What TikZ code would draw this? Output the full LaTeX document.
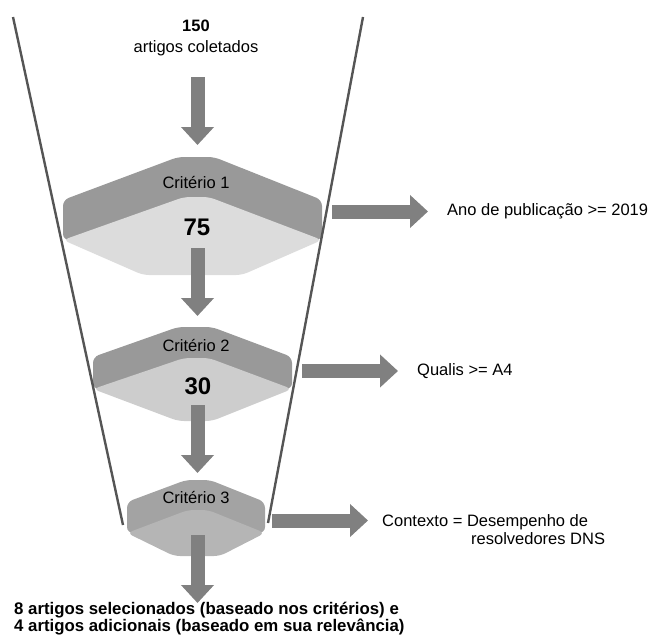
\documentclass[tikz,border=0pt]{standalone}
\usepackage{fontspec}
\setmainfont{Liberation Sans}
\usetikzlibrary{arrows.meta}

\definecolor{slabdark}{HTML}{999999}
\definecolor{slabthree}{HTML}{A3A3A3}
\definecolor{lightone}{HTML}{DCDCDC}
\definecolor{lighttwo}{HTML}{CDCDCD}
\definecolor{lightthree}{HTML}{B5B5B5}
\definecolor{arrowgray}{HTML}{808080}
\definecolor{funnelgray}{HTML}{555555}

\begin{document}
\begin{tikzpicture}[x=1pt, y=-1pt,
	txt/.style = {font=\fontsize{16.5}{18}\selectfont, inner sep=0pt},
	count/.style = {font=\fontsize{24}{28}\selectfont\bfseries, inner sep=0pt},
	blockarrow/.style = {draw=arrowgray, line width=14pt,
		-{Triangle[width=32pt, length=18pt]}},
	slab/.style = {rounded corners=6pt}]
	
	% Page frame
	\useasboundingbox (0,0) rectangle (654,637);
	
	% Slab 1
	\fill[slab, slabdark] (63,200) -- (178,157) -- (214,157) -- (322,200)
		-- (322,240) -- (63,240) -- cycle;
	\fill[slab, lightone] (63,240) -- (184,197) -- (209,197) -- (322,240)
		-- (242,275) -- (143,275) -- cycle;
	
	% Slab 2
	\fill[slab, slabdark] (93,357) -- (178,327) -- (212,327) -- (292,357)
		-- (292,389) -- (93,389) -- cycle;
	\fill[slab, lighttwo] (93,389) -- (184,358) -- (209,358) -- (292,389)
		-- (212,421) -- (178,421) -- cycle;
	
	% Slab 3
	\fill[slab, slabthree] (127,502) -- (186,480) -- (210,480) -- (265,502)
		-- (265,533) -- (127,533) -- cycle;
	\fill[slab, lightthree] (127,533) -- (188,510) -- (208,510) -- (265,533)
		-- (220,556) -- (174,556) -- cycle;
	
	% Funnel walls
	\draw[funnelgray, line width=2.4pt] (13,17) -- (123,525);
	\draw[funnelgray, line width=2.4pt] (363,17) -- (268,523);
	
	% Texts
	\node[txt, align=center] (start) at (196,38) {\textbf{150}\\[3pt]artigos coletados};
	\node[txt] (crit1) at (196,183) {Critério 1};
	\node[count] (num1) at (197,227) {75};
	\node[txt] (crit2) at (196,346) {Critério 2};
	\node[count] (num2) at (198,386) {30};
	\node[txt] (crit3) at (196,498) {Critério 3};
	\node[txt, anchor=west] (rule1) at (447,211) {Ano de publicação >= 2019};
	\node[txt, anchor=west] (rule2) at (417,371) {Qualis >= A4};
	\node[txt, anchor=west, align=left] (rule3) at (382,530)
		{Contexto = Desempenho de\\\hspace*{89pt}resolvedores DNS};
	\node[txt, anchor=west, align=left, font=\fontsize{16.8}{17}\selectfont\bfseries] (result) at (14,619)
		{8 artigos selecionados (baseado nos critérios) e\\4 artigos adicionais (baseado em sua relevância)};
	
	% Arrow ends
	\coordinate (down1a) at (197.5,77);  \coordinate (down1b) at (197.5,145);
	\coordinate (down2a) at (197.5,248); \coordinate (down2b) at (197.5,316);
	\coordinate (down3a) at (197.5,405); \coordinate (down3b) at (197.5,473);
	\coordinate (down4a) at (197.5,535); \coordinate (down4b) at (197.5,603);
	\coordinate (side1a) at (332,211.5); \coordinate (side1b) at (428,211.5);
	\coordinate (side2a) at (302,371);   \coordinate (side2b) at (398,371);
	\coordinate (side3a) at (272,520.5); \coordinate (side3b) at (368,520.5);
	
	% Block arrows
	\draw[blockarrow] (down1a) -- (down1b);
	\draw[blockarrow] (down2a) -- (down2b);
	\draw[blockarrow] (down3a) -- (down3b);
	\draw[blockarrow] (down4a) -- (down4b);
	\draw[blockarrow] (side1a) -- (side1b);
	\draw[blockarrow] (side2a) -- (side2b);
	\draw[blockarrow] (side3a) -- (side3b);
	
\end{tikzpicture}
\end{document}
